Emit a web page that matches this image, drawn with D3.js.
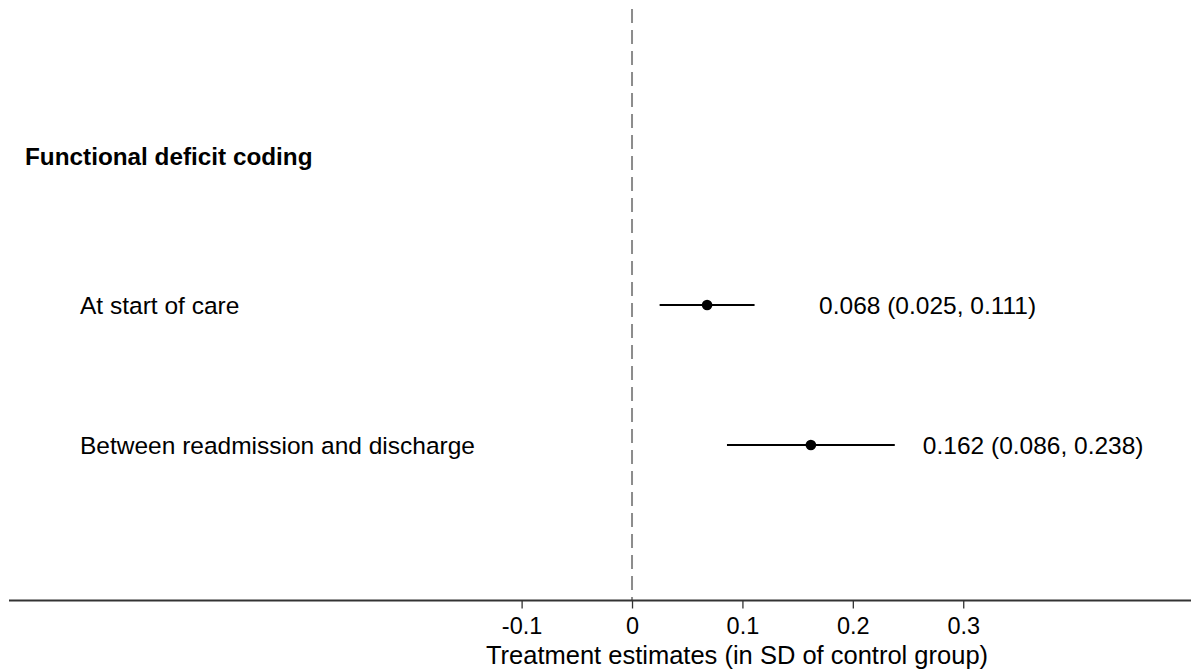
<!DOCTYPE html>
<html>
<head>
<meta charset="utf-8">
<script src="https://cdn.jsdelivr.net/npm/d3@7"></script>
<style>
  html, body { margin: 0; padding: 0; background: #fff; }
  svg { display: block; }
  text { font-family: "Liberation Sans", Arial, Helvetica, sans-serif; fill: #000; }
</style>
</head>
<body>
<svg id="chart" width="1191" height="671"></svg>
<script>
// Forest plot: treatment estimates with 95% confidence intervals
const groupTitle = "Functional deficit coding";
const rowLabels = ["At start of care", "Between readmission and discharge"];
const estimates = [0.068, 0.162];
const lowerCI = [0.025, 0.086];
const upperCI = [0.111, 0.238];
const tickValues = [-0.1, 0, 0.1, 0.2, 0.3];
const tickLabels = ["-0.1", "0", "0.1", "0.2", "0.3"];
const axisTitle = "Treatment estimates (in SD of control group)";

const W = 1191, H = 671;
const svg = d3.select("#chart");

const axisY = 600.5;
const x = d3.scaleLinear().domain([-0.5643, 0.5063]).range([9, 1191]);
const y = d3.scalePoint().domain(rowLabels).range([305, 445]);

// Reference line at zero
svg.append("line")
  .attr("x1", x(0)).attr("x2", x(0))
  .attr("y1", 9).attr("y2", axisY)
  .attr("stroke", "#8c8c8c")
  .attr("stroke-width", 2)
  .attr("stroke-dasharray", "14,7");

// X axis
const axis = d3.axisBottom(x)
  .tickValues(tickValues)
  .tickFormat((d, i) => tickLabels[i])
  .tickSize(8)
  .tickPadding(0);

const gAxis = svg.append("g")
  .attr("transform", `translate(0,${axisY})`)
  .call(axis);
gAxis.select(".domain").attr("stroke", "#333").attr("stroke-width", 2)
  .attr("d", `M${x.range()[0]},0H${x.range()[1]}`);
gAxis.selectAll(".tick line").attr("stroke", "#333").attr("stroke-width", 1.3);
gAxis.selectAll(".tick text")
  .attr("font-size", 23.5)
  .attr("font-family", "Liberation Sans, Arial, sans-serif")
  .attr("fill", "#000")
  .attr("dy", null)
  .attr("y", 634 - axisY);

svg.append("text")
  .attr("x", 737).attr("y", 664)
  .attr("text-anchor", "middle")
  .attr("font-size", 25.5)
  .text(axisTitle);

// Group heading
svg.append("text")
  .attr("x", 25).attr("y", 165)
  .attr("font-size", 24.3)
  .attr("font-weight", "bold")
  .text(groupTitle);

// Rows
const rows = rowLabels.map((label, i) => ({
  label, est: estimates[i], lo: lowerCI[i], hi: upperCI[i], cy: y(label)
}));

const g = svg.append("g");
g.selectAll("text.row-label")
  .data(rows).enter().append("text")
  .attr("class", "row-label")
  .attr("x", 80).attr("y", d => d.cy + 9)
  .attr("font-size", 24.5)
  .text(d => d.label);

g.selectAll("line.ci")
  .data(rows).enter().append("line")
  .attr("class", "ci")
  .attr("x1", d => x(d.lo)).attr("x2", d => x(d.hi))
  .attr("y1", d => d.cy).attr("y2", d => d.cy)
  .attr("stroke", "#000").attr("stroke-width", 2);

g.selectAll("circle.est")
  .data(rows).enter().append("circle")
  .attr("class", "est")
  .attr("cx", d => x(d.est)).attr("cy", d => d.cy)
  .attr("r", 5.3).attr("fill", "#000");

g.selectAll("text.val")
  .data(rows).enter().append("text")
  .attr("class", "val")
  .attr("x", d => x(d.est) + 112).attr("y", d => d.cy + 9)
  .attr("font-size", 24.5)
  .text(d => `${d.est.toFixed(3)} (${d.lo.toFixed(3)}, ${d.hi.toFixed(3)})`);
</script>
</body>
</html>
